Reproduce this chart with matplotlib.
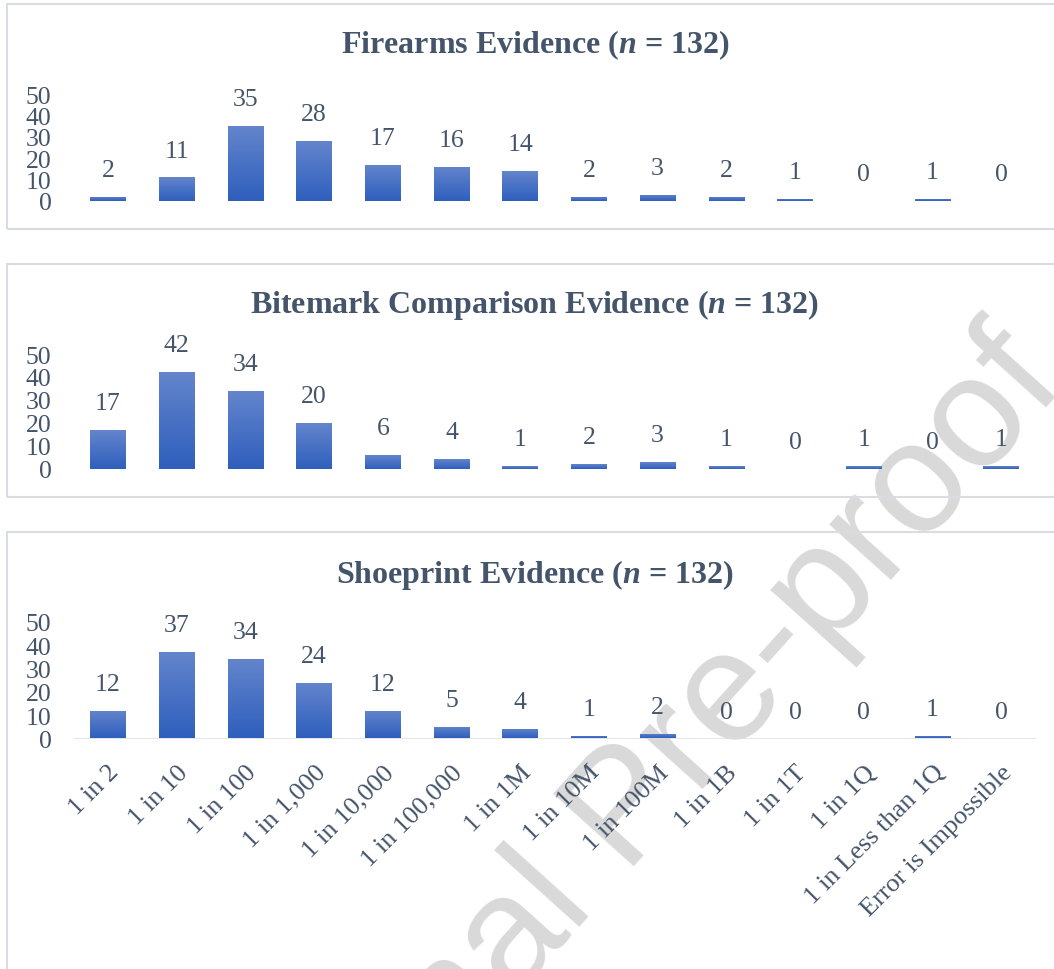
import matplotlib
matplotlib.use("Agg")
import matplotlib.pyplot as plt
from matplotlib.patches import Rectangle
from matplotlib.colors import LinearSegmentedColormap
import numpy as np

plt.rcParams['font.family'] = ['Liberation Serif', 'DejaVu Serif']
plt.rcParams['mathtext.fontset'] = 'custom'
plt.rcParams['mathtext.it'] = 'Liberation Serif:italic:bold'
plt.rcParams['mathtext.rm'] = 'Liberation Serif:bold'

categories = ["1 in 2", "1 in 10", "1 in 100", "1 in 1,000", "1 in 10,000",
              "1 in 100,000", "1 in 1M", "1 in 10M", "1 in 100M", "1 in 1B",
              "1 in 1T", "1 in 1Q", "1 in Less than 1Q", "Error is Impossible"]
firearms = [2, 11, 35, 28, 17, 16, 14, 2, 3, 2, 1, 0, 1, 0]
bitemark = [17, 42, 34, 20, 6, 4, 1, 2, 3, 1, 0, 1, 0, 1]
shoeprint = [12, 37, 34, 24, 12, 5, 4, 1, 2, 0, 0, 0, 1, 0]
titles = [r"Firearms Evidence ($n$ = 132)",
          r"Bitemark Comparison Evidence ($n$ = 132)",
          r"Shoeprint Evidence ($n$ = 132)"]
yticks = [0, 10, 20, 30, 40, 50]

TXT = '#44546A'
GRID = '#D9DDE2'
bar_cmap = LinearSegmentedColormap.from_list('bars', ['#2E5FBD', '#6485CC'])

W, H = 1054, 970
fig = plt.figure(figsize=(W / 100, H / 100), dpi=100)

# watermark sits behind everything
fig.text(628 / W, 1 - 812 / H, "Journal Pre-proof", rotation=48, fontsize=114,
         family='Liberation Sans', color='#D9D9D9', ha='center', va='center',
         zorder=-5)

# panel frames (y top, y bottom in px)
frames = [(5, 230), (265, 498), (533, 990)]
for top, bot in frames:
    fig.patches.append(Rectangle((7 / W, 1 - bot / H), 1.2, (bot - top) / H,
                                 transform=fig.transFigure, fill=False,
                                 edgecolor=GRID, lw=1.5, zorder=-4))

# axes: (zero line px, top px), title y px
axes_px = [(202, 95, 45), (469.5, 355, 305), (739.5, 623, 575)]
left = 73.6 / W
width = 962 / W

x = np.arange(len(categories))
grad = np.linspace(0, 1, 256).reshape(-1, 1)

for i, (vals, title, (zero, top, ty)) in enumerate(zip([firearms, bitemark, shoeprint], titles, axes_px)):
    ax = fig.add_axes([left, 1 - zero / H, width, (zero - top) / H])
    ax.set_facecolor('none')
    bars = ax.bar(x, vals, width=0.52, color='none', edgecolor='none')
    for b in bars:
        h = b.get_height()
        if h <= 0:
            continue
        im = ax.imshow(grad, extent=[b.get_x(), b.get_x() + b.get_width(), 0, h],
                       origin='lower', aspect='auto', cmap=bar_cmap, zorder=2)
        im.set_clip_path(b)
    for xi, v in zip(x, vals):
        ax.annotate(str(v), (xi, v), xytext=(0, 19.4), textcoords='offset points',
                    ha='center', va='center', fontsize=18.5, color=TXT)
    ax.set_xlim(-0.5, len(categories) - 0.5)
    ax.set_ylim(0, 50)
    ax.set_yticks(yticks)
    ax.tick_params(axis='y', length=0, pad=16, labelsize=18.5, labelcolor=TXT)
    for sp in ax.spines.values():
        sp.set_visible(False)
    if i == 2:
        ax.axhline(0, color=GRID, lw=1.8, zorder=1)
        ax.set_xticks(x)
        ax.set_xticklabels(categories, rotation=45, ha='right',
                           rotation_mode='anchor', fontsize=19, color=TXT)
        ax.tick_params(axis='x', length=0, pad=16)
    else:
        ax.set_xticks([])
    fig.text(535 / W, 1 - ty / H, title, ha='center', va='center',
             fontsize=23, fontweight='bold', color=TXT)

fig.savefig('out.png', dpi=100)
